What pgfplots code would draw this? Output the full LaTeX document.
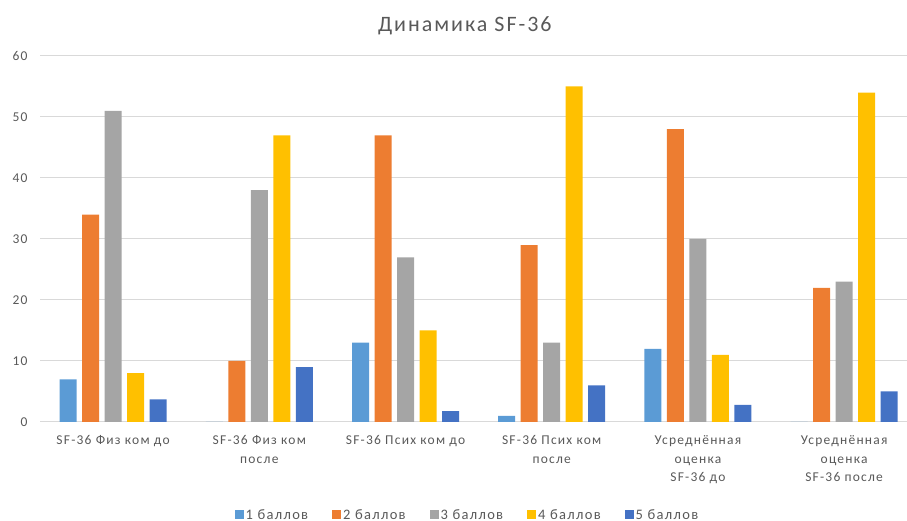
\documentclass[border=0pt]{standalone}
\usepackage{fontspec}
\setmainfont{Carlito}[LetterSpace=9]
\usepackage{pgfplots}
\pgfplotsset{compat=1.18}

\definecolor{ballA}{HTML}{5B9BD5}
\definecolor{ballB}{HTML}{ED7D31}
\definecolor{ballC}{HTML}{A5A5A5}
\definecolor{ballD}{HTML}{FFC000}
\definecolor{ballE}{HTML}{4472C4}
\definecolor{txt}{HTML}{595959}
\definecolor{gridc}{HTML}{D9D9D9}

\begin{document}
\begin{tikzpicture}
\begin{axis}[
  at={(40pt,99pt)}, anchor=south west,
  scale only axis, width=867pt, height=366pt,
  xmin=-0.5, xmax=5.43, ymin=0, ymax=60,
  ybar=5.5pt, bar width=17pt,
  axis line style={draw=none},
  major tick length=0pt,
  ymajorgrids, grid style={gridc, line width=1pt},
  ytick={0,10,...,60},
  xtick={0,1,2,3,4,5},
  xticklabels={
    SF-36 Физ ком до,
    {SF-36 Физ ком\\после},
    SF-36 Псих ком до,
    {SF-36 Псих ком\\после},
    {Усреднённая\\оценка\\SF-36 до},
    {Усреднённая\\оценка\\SF-36 после}},
  /pgf/number format/assume math mode=true,
  ticklabel style={font=\fontsize{13.5}{18.7}\selectfont, text=txt},
  xticklabel style={align=center, yshift=-10pt},
  yticklabel style={xshift=-9pt},
  title={Динамика SF-36},
  title style={font=\fontsize{22}{26}\selectfont, text=txt, at={(axis description cs:0.49,1.066)}, anchor=center},
  legend columns=5,
  legend style={draw=none, fill=none, at={(axis description cs:0.493,-0.254)}, anchor=center,
    font=\fontsize{14.5}{16}\selectfont, text=txt,
    /tikz/every even column/.append style={column sep=22pt}},
  legend image code/.code={\fill[#1] (0pt,-4pt) rectangle (9pt,5pt);},
  every axis plot/.append style={draw=none},
]
\addplot[fill=ballA] coordinates {(0,7) (1,0) (2,13) (3,1) (4,12) (5,0)};
\addplot[fill=ballB] coordinates {(0,34) (1,10) (2,47) (3,29) (4,48) (5,22)};
\addplot[fill=ballC] coordinates {(0,51) (1,38) (2,27) (3,13) (4,30) (5,23)};
\addplot[fill=ballD] coordinates {(0,8) (1,47) (2,15) (3,55) (4,11) (5,54)};
\addplot[fill=ballE] coordinates {(0,3.7) (1,9) (2,1.8) (3,6) (4,2.8) (5,5)};
\legend{1 баллов, 2 баллов, 3 баллов, 4 баллов, 5 баллов}
\end{axis}
\pgfresetboundingbox
\path[use as bounding box] (0,0) rectangle (907pt,521pt);
\end{tikzpicture}
\end{document}
